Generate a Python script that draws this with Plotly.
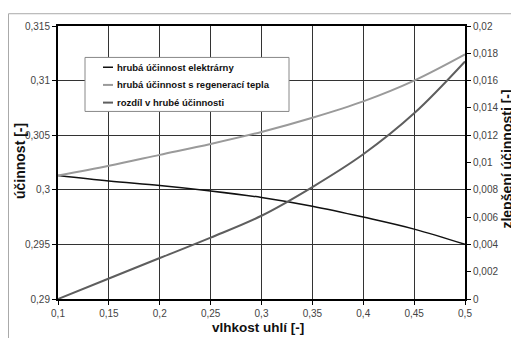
import plotly.graph_objects as go

# ---- data ----
moisture = [0.1, 0.15, 0.2, 0.25, 0.3, 0.35, 0.4, 0.45, 0.5]
eff_plant = [0.3013, 0.3008, 0.3004, 0.2999, 0.2993, 0.2985, 0.2975, 0.2964, 0.2950]
eff_regen = [0.3013, 0.3022, 0.3032, 0.3042, 0.3053, 0.3066, 0.3081, 0.3100, 0.3124]
eff_diff = [0.0, 0.0015, 0.0030, 0.0045, 0.0061, 0.0082, 0.0106, 0.0136, 0.0174]

x_ticks = [0.1, 0.15, 0.2, 0.25, 0.3, 0.35, 0.4, 0.45, 0.5]
x_tick_labels = ["0,1", "0,15", "0,2", "0,25", "0,3", "0,35", "0,4", "0,45", "0,5"]
y_ticks = [0.29, 0.295, 0.3, 0.305, 0.31, 0.315]
y_tick_labels = ["0,29", "0,295", "0,3", "0,305", "0,31", "0,315"]
y2_ticks = [0, 0.002, 0.004, 0.006, 0.008, 0.01, 0.012, 0.014, 0.016, 0.018, 0.02]
y2_tick_labels = ["0", "0,002", "0,004", "0,006", "0,008", "0,01", "0,012",
                  "0,014", "0,016", "0,018", "0,02"]

names = ["hrubá účinnost elektrárny",
         "hrubá účinnost s regenerací tepla",
         "rozdíl v hrubé účinnosti"]
colors = ["#111111", "#9a9a9a", "#5e5e5e"]
widths = [1.5, 2, 2]

FONT = "Liberation Sans, Arial, sans-serif"
# page has an 8px body margin, so the figure is drawn from (8, 8)
W, H = 511, 330
L, R, T, B = 50, 54, 13, 39
pw, ph = W - L - R, H - T - B


def px(x):
    return (x - L) / pw


def py(y):
    return (H - B - y) / ph


fig = go.Figure()
fig.add_trace(go.Scatter(x=moisture, y=eff_plant, mode="lines", name=names[0],
                         line=dict(color=colors[0], width=widths[0], shape="spline")))
fig.add_trace(go.Scatter(x=moisture, y=eff_regen, mode="lines", name=names[1],
                         line=dict(color=colors[1], width=widths[1], shape="spline")))
fig.add_trace(go.Scatter(x=moisture, y=eff_diff, mode="lines", name=names[2],
                         line=dict(color=colors[2], width=widths[2], shape="spline"),
                         yaxis="y2"))

tickfont = dict(family=FONT, size=10, color="#444444")
title_font = dict(family=FONT, size=13.5, color="#111111", weight="bold")

annotations = [
    dict(text="účinnost [-]", xref="paper", yref="paper",
         x=px(12), y=py(150.5), xanchor="center", yanchor="middle",
         textangle=-90, showarrow=False,
         font=dict(family=FONT, size=14, color="#111111", weight="bold")),
    dict(text="vlhkost uhlí [-]", xref="paper", yref="paper",
         x=px(250), y=py(320), xanchor="center", yanchor="middle",
         showarrow=False, font=title_font),
    dict(text="zlepšení účinnosti [-]", xref="paper", yref="paper",
         x=px(499), y=py(149), xanchor="center", yanchor="middle",
         textangle=-90, showarrow=False,
         font=dict(family=FONT, size=14, color="#111111", weight="bold")),
]
shapes = [
    # outer chart frame
    dict(type="rect", xref="paper", yref="paper", layer="below",
         x0=px(0.5), x1=px(530), y0=py(350), y1=py(0.5),
         line=dict(color="#aaaaaa", width=1)),
    # legend box
    dict(type="rect", xref="paper", yref="paper", layer="above",
         x0=px(77), x1=px(281), y0=py(100), y1=py(45),
         fillcolor="white", line=dict(color="#888888", width=1)),
]
legend_rows = [55, 73, 91]
for name, col, wd, ly in zip(names, colors, widths, legend_rows):
    shapes.append(dict(type="line", xref="paper", yref="paper", layer="above",
                       x0=px(95), x1=px(105), y0=py(ly), y1=py(ly),
                       line=dict(color=col, width=wd)))
    annotations.append(dict(text=name, xref="paper", yref="paper",
                            x=px(107), y=py(ly), xanchor="left", yanchor="middle",
                            showarrow=False,
                            font=dict(family=FONT, size=9.5, color="#111111",
                                      weight="bold")))

fig.update_layout(
    width=W, height=H,
    margin=dict(l=L, r=R, t=T, b=B, pad=0),
    paper_bgcolor="white", plot_bgcolor="white",
    showlegend=False,
    xaxis=dict(range=[0.1, 0.5], tickvals=x_ticks, ticktext=x_tick_labels,
               showgrid=True, gridcolor="#333333", gridwidth=1,
               showline=True, linecolor="black", linewidth=2, mirror=True,
               ticks="outside", ticklen=4, tickcolor="black",
               tickfont=tickfont, zeroline=False),
    yaxis=dict(range=[0.29, 0.315], tickvals=y_ticks, ticktext=y_tick_labels,
               showgrid=True, gridcolor="#333333", gridwidth=1,
               showline=True, linecolor="black", linewidth=2,
               ticks="outside", ticklen=4, tickcolor="black",
               tickfont=tickfont, zeroline=False),
    yaxis2=dict(range=[0, 0.02], tickvals=y2_ticks, ticktext=y2_tick_labels,
                overlaying="y", side="right", showgrid=False,
                showline=True, linecolor="black", linewidth=2,
                ticks="outside", ticklen=4, tickcolor="black",
                tickfont=tickfont, zeroline=False),
    annotations=annotations,
    shapes=shapes,
)

fig.write_html("out.html")
